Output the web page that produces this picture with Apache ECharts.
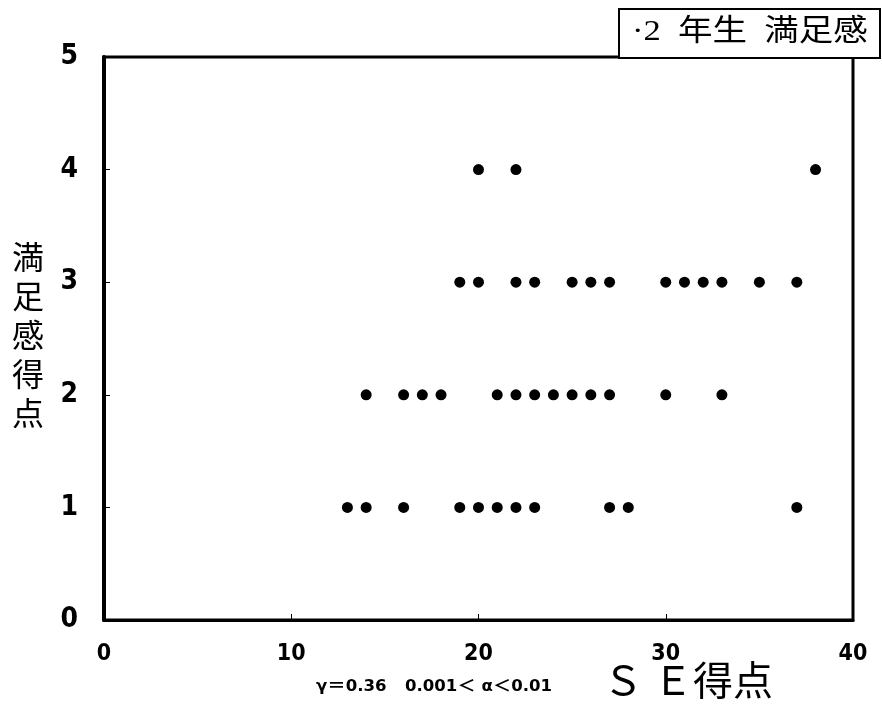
<!DOCTYPE html>
<html><head><meta charset="utf-8">
<script src="https://cdn.jsdelivr.net/npm/echarts@6/dist/echarts.min.js"></script>
<style>html,body{margin:0;padding:0;background:#fff}#c{width:882px;height:714px}</style>
</head><body><div id="c"></div>
<script>
// SE scores (x) for each satisfaction score (y)
const seAtScore4 = [20, 22, 38];
const seAtScore3 = [19, 20, 22, 23, 25, 26, 27, 30, 31, 32, 33, 35, 37];
const seAtScore2 = [14, 16, 17, 18, 21, 22, 23, 24, 25, 26, 27, 30, 33];
const seAtScore1 = [13, 14, 16, 19, 20, 21, 22, 23, 27, 28, 37];
const scoreLevels = [4, 3, 2, 1];
const xTicks = [0, 10, 20, 30, 40];
const yTicks = [0, 1, 2, 3, 4, 5];
const titleText = '·2  年生  満足感';
const yTitle = '満足感得点';
const xTitle = 'Ｓ Ｅ得点';
const statText = 'γ＝0.36　0.001＜ α＜0.01';

const rows = [seAtScore4, seAtScore3, seAtScore2, seAtScore1];
const points = [];
rows.forEach((r, i) => r.forEach(x => points.push([x, scoreLevels[i]])));

const numFont = '"DejaVu Sans Condensed","Liberation Sans Narrow","Noto Sans CJK JP",sans-serif';
const cjkFont = '"Liberation Serif","Noto Sans CJK JP",serif';

const chart = echarts.init(document.getElementById('c'));
chart.setOption({
  animation: false,
  grid: {left: 104, right: 29, top: 57, bottom: 94, containLabel: false, outerBoundsMode: 'none',
         show: true, borderColor: '#000', borderWidth: 3, backgroundColor: 'transparent'},
  xAxis: {
    type: 'value', min: xTicks[0], max: xTicks[xTicks.length - 1], interval: 10,
    axisLine: {show: true, lineStyle: {color: '#000', width: 3}},
    axisTick: {show: true, inside: true, length: 6, lineStyle: {color: '#000', width: 1}},
    splitLine: {show: false},
    axisLabel: {color: '#000', fontFamily: numFont, fontWeight: 'bold', fontSize: 23, margin: 23}
  },
  yAxis: {
    type: 'value', min: yTicks[0], max: yTicks[yTicks.length - 1], interval: 1,
    name: yTitle.split('').join('\n'), nameLocation: 'middle', nameRotate: 0, nameGap: 60,
    nameTextStyle: {color: '#000', fontFamily: cjkFont, fontSize: 32, lineHeight: 39, padding: [0, 0, 18, 0]},
    axisLine: {show: true, lineStyle: {color: '#000', width: 4}},
    axisTick: {show: true, inside: true, length: 6, lineStyle: {color: '#000', width: 1}},
    splitLine: {show: false},
    axisLabel: {color: '#000', fontFamily: numFont, fontWeight: 'bold', fontSize: 28, margin: 26}
  },
  series: [{
    type: 'scatter', data: points, symbol: 'circle', symbolSize: 11,
    itemStyle: {color: '#000', opacity: 1}
  }],
  graphic: [
    {type: 'rect', left: 618, top: 8, shape: {width: 261, height: 49}, style: {fill: '#fff', stroke: '#000', lineWidth: 2}, z: 10},
    {type: 'text', x: 632, y: 17, scaleX: 1.15, style: {text: titleText, fill: '#000', font: '30px ' + cjkFont}, z: 11},
    {type: 'text', x: 316, y: 679, scaleX: 1.15, style: {text: statText, fill: '#000', font: 'bold 16px ' + numFont}},
    {type: 'text', left: 603, top: 664, style: {text: xTitle, fill: '#000', font: '40px ' + cjkFont}}
  ]
});
</script></body></html>
